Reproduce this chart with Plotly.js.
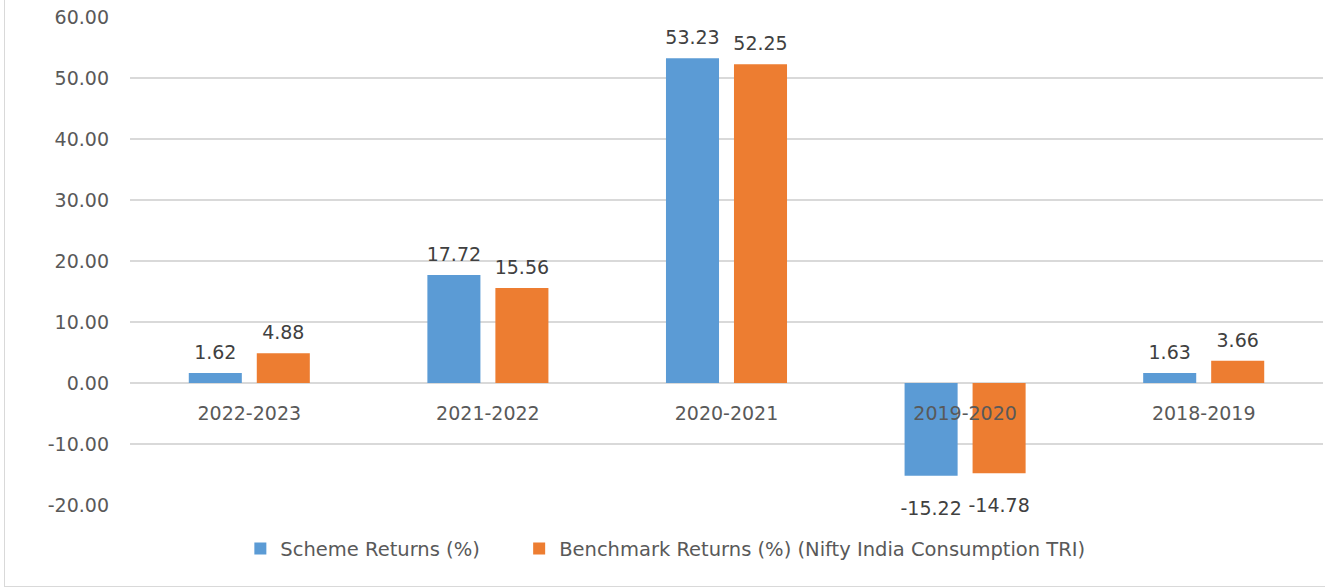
<!DOCTYPE html>
<html>
<head>
<meta charset="utf-8">
<script src="https://cdn.plot.ly/plotly-3.0.1.min.js"></script>
<style>
  html, body { margin: 0; padding: 0; background: #fff; }
  #wrap { position: relative; width: 1325px; height: 588px; overflow: hidden; }
  #frame { position: absolute; left: 4px; top: -2px; width: 1340px; height: 589px; border: 1px solid #d9d9d9; box-sizing: border-box; pointer-events: none; }
  #chart { position: absolute; left: 0; top: 0; width: 1325px; height: 588px; }
</style>
</head>
<body>
<div id="wrap">
  <div id="chart"></div>
  <div id="frame"></div>
</div>
<script>
const categories = ["2022-2023", "2021-2022", "2020-2021", "2019-2020", "2018-2019"];
const schemeReturns = [1.62, 17.72, 53.23, -15.22, 1.63];
const benchmarkReturns = [4.88, 15.56, 52.25, -14.78, 3.66];
const seriesNames = ["Scheme Returns (%)", "Benchmark Returns (%) (Nifty India Consumption TRI)"];
const seriesColors = ["#5B9BD5", "#ED7D31"];
const yTickValues = [-20, -10, 0, 10, 20, 30, 40, 50, 60];
const yTickLabels = yTickValues.map(v => v.toFixed(2));

const FONT = "DejaVu Sans, sans-serif";
const labelFont = { family: FONT, size: 19, color: "#404040" };

const allSeries = [schemeReturns, benchmarkReturns];
const legendIds = ["legend", "legend2"];
const traces = [];
allSeries.forEach((vals, i) => {
  traces.push({
    type: "bar", name: seriesNames[i], x: categories, y: vals,
    marker: { color: seriesColors[i] },
    offsetgroup: "g" + i, alignmentgroup: "a",
    legend: legendIds[i],
    hoverinfo: "skip"
  });
});
allSeries.forEach((vals, i) => {
  traces.push({
    type: "scatter", mode: "markers+text", x: categories, y: vals,
    offsetgroup: "g" + i, alignmentgroup: "a",
    marker: { size: vals.map(v => v >= 0 ? 13 : 38), opacity: 0, color: seriesColors[i] },
    text: vals.map(v => v.toFixed(2)),
    textposition: vals.map(v => v >= 0 ? "top center" : "bottom center"),
    textfont: labelFont,
    cliponaxis: false, showlegend: false, hoverinfo: "skip"
  });
});

const legendBase = {
  orientation: "h",
  xanchor: "left",
  y: -0.09,
  yanchor: "middle",
  font: { family: FONT, size: 19.5, color: "#595959" },
  bgcolor: "rgba(0,0,0,0)"
};

const layout = {
  width: 1325, height: 588,
  margin: { l: 129.5, r: 1.5, t: 17, b: 83, autoexpand: false },
  paper_bgcolor: "rgba(0,0,0,0)",
  plot_bgcolor: "rgba(0,0,0,0)",
  barmode: "group",
  bargap: 0.43,
  bargroupgap: 0.22,
  scattermode: "group",
  scattergap: 0.43,
  showlegend: true,
  font: { family: FONT, color: "#595959", size: 19 },
  xaxis: {
    type: "category",
    anchor: "free",
    position: 0.25,
    showgrid: false,
    showline: false,
    ticks: "",
    tickangle: 0,
    automargin: false,
    ticklabelstandoff: 17,
    tickfont: { family: FONT, size: 19, color: "#595959" },
    fixedrange: true
  },
  yaxis: {
    range: [-20, 60],
    tickvals: yTickValues,
    ticktext: yTickLabels,
    showgrid: true,
    gridcolor: "#d9d9d9",
    gridwidth: 1.5,
    zeroline: true,
    zerolinecolor: "#d9d9d9",
    zerolinewidth: 1.5,
    showline: false,
    ticks: "",
    automargin: false,
    ticklabelstandoff: 20,
    tickfont: { family: FONT, size: 19, color: "#595959" },
    fixedrange: true
  },
  legend: Object.assign({}, legendBase, { x: 0.0925 }),
  legend2: Object.assign({}, legendBase, { x: 0.3262 })
};

Plotly.newPlot("chart", traces, layout, { staticPlot: true, displayModeBar: false });
</script>
</body>
</html>
